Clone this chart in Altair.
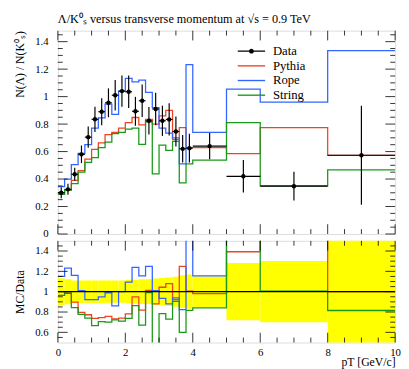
import altair as alt
import pandas as pd

# ---------------- data ----------------
edges = [0.0, 0.2, 0.4, 0.6, 0.8, 1.0, 1.2, 1.4, 1.6, 1.8, 2.0, 2.2, 2.4, 2.6, 2.8,
         3.0, 3.2, 3.4, 3.6, 3.8, 4.0, 5.0, 6.0, 8.0, 10.0]
data_val = [0.30, 0.325, 0.435, 0.58, 0.705, 0.835, 0.89, 0.955, 1.01, 1.04,
            1.035, 0.893, 0.97, 0.824, 0.91, 0.824, 0.834, 0.746, 0.62, 0.625,
            0.64, 0.42, 0.348, 0.573]
data_err = [0.040, 0.040, 0.048, 0.064, 0.078, 0.092, 0.098, 0.105, 0.111, 0.114,
            0.118, 0.105, 0.118, 0.100, 0.118, 0.110, 0.117, 0.110, 0.100, 0.105,
            0.096, 0.118, 0.105, 0.360]
pythia = [0.30, 0.32, 0.39, 0.462, 0.545, 0.616, 0.663, 0.723, 0.739, 0.77,
          0.81, 0.848, 0.794, 0.834, 0.80, 0.86, 0.90, 0.687, 0.775, 0.628,
          0.628, 0.585, 0.775, 0.573]
rope = [0.345, 0.40, 0.505, 0.586, 0.65, 0.77, 0.845, 0.945, 0.87, 1.04,
        1.133, 1.107, 1.12, 1.03, 0.919, 0.77, 0.734, 0.70, 0.51, 1.232,
        0.74, 1.054, 0.96, 1.334]
string = [0.289, 0.32, 0.367, 0.45, 0.521, 0.556, 0.628, 0.668, 0.73, 0.739,
          0.763, 0.77, 0.652, 0.817, 0.438, 0.647, 0.609, 0.675, 0.372, 0.51,
          0.538, 0.81, 0.35, 0.467]

series_names = ["Data", "Pythia", "Rope", "String"]
series_colors = ["#000000", "#EE4422", "#3366FF", "#1A991A"]
# legend glyphs: line with a dot for Data, plain line for the MC curves
DOT_LINE = "M-2,0H2M-0.25,0A0.25,0.25,0,1,0,0.25,0A0.25,0.25,0,1,0,-0.25,0Z"
LINE = "M-2,0H2"
series_shapes = [DOT_LINE, LINE, LINE, LINE]

x_major = [0, 2, 4, 6, 8, 10]
x_minor = [0.5, 1, 1.5, 2.5, 3, 3.5, 4.5, 5, 5.5, 6.5, 7, 7.5, 8.5, 9, 9.5]
top_major = [0, 0.2, 0.4, 0.6, 0.8, 1.0, 1.2, 1.4]
top_minor = [round(0.05 * i, 2) for i in range(1, 30) if i % 4 != 0]
rat_major = [0.6, 0.8, 1.0, 1.2, 1.4]
rat_minor = [round(0.5 + 0.05 * i, 2) for i in range(1, 20) if i % 4 != 2]

FONT = "Liberation Serif"
W, H_TOP, H_RAT = 345, 208, 104

# ---------------- tables ----------------
lo, hi = edges[:-1], edges[1:]
ddf = pd.DataFrame({"lo": lo, "hi": hi, "val": data_val, "err": data_err})
ddf["mid"] = (ddf["lo"] + ddf["hi"]) / 2
ddf["low"] = ddf["val"] - ddf["err"]
ddf["high"] = ddf["val"] + ddf["err"]
ddf["rlo"] = 1 - ddf["err"] / ddf["val"]
ddf["rhi"] = 1 + ddf["err"] / ddf["val"]

rows, rrows = [], []
for name, vals in [("Pythia", pythia), ("Rope", rope), ("String", string), ("Data", data_val)]:
    ext = list(vals) + [vals[-1]]
    dext = list(data_val) + [data_val[-1]]
    for e, v, d in zip(edges, ext, dext):
        if name != "Data":
            rows.append({"x": e, "y": v, "series": name})
        rrows.append({"x": e, "y": v / d, "series": name})
steps = pd.DataFrame(rows)
rsteps = pd.DataFrame(rrows)
legend_df = pd.DataFrame({"series": series_names, "x": [None] * 4, "y": [None] * 4})

xs = alt.Scale(domain=[0, 10], nice=False, zero=False)
ys_top = alt.Scale(domain=[0, 1.48], nice=False, zero=False)
ys_rat = alt.Scale(domain=[0.5, 1.5], nice=False, zero=False)
cscale = alt.Scale(domain=series_names, range=series_colors)
sscale = alt.Scale(domain=series_names, range=series_shapes)

axis_common = dict(ticks=False, domain=False, grid=False, format="~r",
                   labelFont=FONT, labelOverlap=False, labelFlush=False,
                   titleFont=FONT, titleFontWeight="normal")

X_TOP = alt.Axis(values=x_major, labels=False, title=None, **axis_common)
X_BOT = alt.Axis(values=x_major, labelPadding=4, labelFontSize=11, title="pT [GeV/c]",
                 titleAnchor="end", titlePadding=0, titleFontSize=12, **axis_common)
Y_TOP = alt.Axis(values=top_major, labelPadding=10, labelFontSize=11, title="N(Λ) / N(K⁰ₛ)",
                 titleAnchor="end", titlePadding=8, titleFontSize=12, **axis_common)
Y_BOT = alt.Axis(values=rat_major, labelPadding=10, labelFontSize=11, title="MC/Data",
                 titlePadding=8, titleFontSize=12, **axis_common)


def tick_layers(xax, yax, yscale, ymaj, ymin, h):
    out = []
    for vals, ln in [(ymaj, 10), (ymin, 5)]:
        t = pd.DataFrame({"v": vals})
        out.append(alt.Chart(t).mark_rule(color="black", strokeWidth=0.8).encode(
            y=alt.Y("v:Q", scale=yscale, axis=yax), x=alt.value(0), x2=alt.value(ln)))
        out.append(alt.Chart(t).mark_rule(color="black", strokeWidth=0.8).encode(
            y=alt.Y("v:Q", scale=yscale, axis=yax), x=alt.value(W - ln), x2=alt.value(W)))
    for vals, ln in [(x_major, 10), (x_minor, 5)]:
        t = pd.DataFrame({"v": vals})
        out.append(alt.Chart(t).mark_rule(color="black", strokeWidth=0.8).encode(
            x=alt.X("v:Q", scale=xs, axis=xax), y=alt.value(h), y2=alt.value(h - ln)))
        out.append(alt.Chart(t).mark_rule(color="black", strokeWidth=0.8).encode(
            x=alt.X("v:Q", scale=xs, axis=xax), y=alt.value(0), y2=alt.value(ln)))
    return out


legend = alt.Legend(title=None, orient="none", legendX=190, legendY=13,
                    symbolSize=196, symbolStrokeWidth=1.4, labelFont=FONT, labelFontSize=13,
                    labelOffset=14, rowPadding=0)

top_lines = alt.Chart(steps).mark_line(interpolate="step-after", strokeWidth=1.3, clip=True).encode(
    x=alt.X("x:Q", scale=xs, axis=X_TOP),
    y=alt.Y("y:Q", scale=ys_top, axis=Y_TOP),
    color=alt.Color("series:N", scale=cscale, legend=legend),
)
legend_layer = alt.Chart(legend_df).mark_point(filled=True, opacity=1).encode(
    x=alt.X("x:Q", scale=xs, axis=X_TOP),
    y=alt.Y("y:Q", scale=ys_top, axis=Y_TOP),
    color=alt.Color("series:N", scale=cscale, legend=legend),
    shape=alt.Shape("series:N", scale=sscale, legend=legend),
)
verr = alt.Chart(ddf).mark_rule(color="black", strokeWidth=1.2).encode(
    x=alt.X("mid:Q", scale=xs, axis=X_TOP), y=alt.Y("low:Q", scale=ys_top, axis=Y_TOP), y2="high:Q")
herr = alt.Chart(ddf).mark_rule(color="black", strokeWidth=1.2).encode(
    x=alt.X("lo:Q", scale=xs, axis=X_TOP), x2="hi:Q", y=alt.Y("val:Q", scale=ys_top, axis=Y_TOP))
pts = alt.Chart(ddf).mark_circle(color="black", size=20, opacity=1).encode(
    x=alt.X("mid:Q", scale=xs, axis=X_TOP), y=alt.Y("val:Q", scale=ys_top, axis=Y_TOP))

top = alt.layer(top_lines, legend_layer, verr, herr, pts,
                *tick_layers(X_TOP, Y_TOP, ys_top, top_major, top_minor, H_TOP)).properties(
    width=W, height=H_TOP,
    title=alt.TitleParams("Λ/K⁰ₛ versus transverse momentum at √s = 0.9 TeV", anchor="start",
                          frame="group", font=FONT, fontSize=12.5, fontWeight="normal", offset=5))

band = alt.Chart(ddf).mark_rect(color="#FFFF00", clip=True).encode(
    x=alt.X("lo:Q", scale=xs, axis=X_BOT), x2="hi:Q",
    y=alt.Y("rlo:Q", scale=ys_rat, axis=Y_BOT), y2="rhi:Q")
rat_lines = alt.Chart(rsteps).mark_line(interpolate="step-after", strokeWidth=1.3, clip=True).encode(
    x=alt.X("x:Q", scale=xs, axis=X_BOT),
    y=alt.Y("y:Q", scale=ys_rat, axis=Y_BOT),
    color=alt.Color("series:N", scale=cscale, legend=None),
    order=alt.Order("x:Q"))

bottom = alt.layer(band, rat_lines,
                   *tick_layers(X_BOT, Y_BOT, ys_rat, rat_major, rat_minor, H_RAT)).properties(
    width=W, height=H_RAT)

chart = alt.vconcat(top, bottom, spacing=0).properties(
    padding={"left": 5, "top": 0, "right": 0, "bottom": 0}
).configure_view(stroke="black", strokeWidth=1).configure(font=FONT)

chart.save("out.html", embed_options={"renderer": "svg", "actions": False})
